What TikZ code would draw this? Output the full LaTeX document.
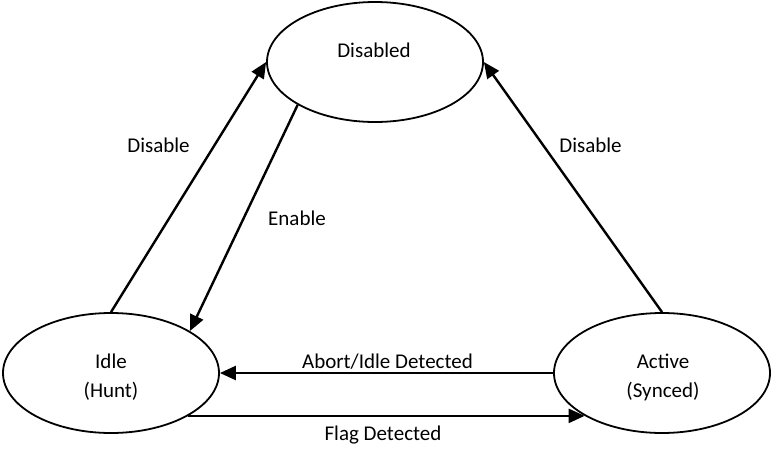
\documentclass[tikz,border=0pt]{standalone}
\usepackage{fontspec}
\setmainfont{Carlito}
\usetikzlibrary{shapes.geometric,arrows.meta}

\tikzset{
  state/.style={ellipse, draw, line width=1.8pt, minimum width=216pt, minimum height=120pt, inner sep=0pt},
  txt/.style={font=\fontsize{21}{24}\selectfont, anchor=base, inner sep=0pt},
  trans/.style={line width=2.4pt, -{Triangle[length=16pt,width=14pt]}}
}

\begin{document}
\begin{tikzpicture}[x=1pt, y=-1pt]
  \useasboundingbox (0,0) rectangle (774,448);

  % states
  \node[state] (dis) at (375,62) {};
  \node[state] (idle) at (111,373) {};
  \node[state] (act) at (662,373) {};

  % state names
  \node[txt] (tdis) at (374,57) {Disabled};
  \node[txt] (tidle1) at (111,368) {Idle};
  \node[txt] (tidle2) at (111,397) {(Hunt)};
  \node[txt] (tact1) at (663,368) {Active};
  \node[txt] (tact2) at (663,397) {(Synced)};

  % transitions
  \draw[trans] (idle.north) -- (dis.west);
  \draw[trans] (dis.209.2) -- (idle.28.6);
  \draw[trans] (act.north) -- (dis.east);
  \draw[trans] (act.west) -- (idle.east);
  \draw[trans] (idle.-29.8) -- (act.209.8);

  % transition labels
  \node[txt] (ldis1) at (158.5,152) {Disable};
  \node[txt] (len) at (297,225) {Enable};
  \node[txt] (ldis2) at (590.5,152) {Disable};
  \node[txt] (labort) at (387.5,368) {Abort/Idle Detected};
  \node[txt] (lflag) at (383,440) {Flag Detected};
\end{tikzpicture}
\end{document}
